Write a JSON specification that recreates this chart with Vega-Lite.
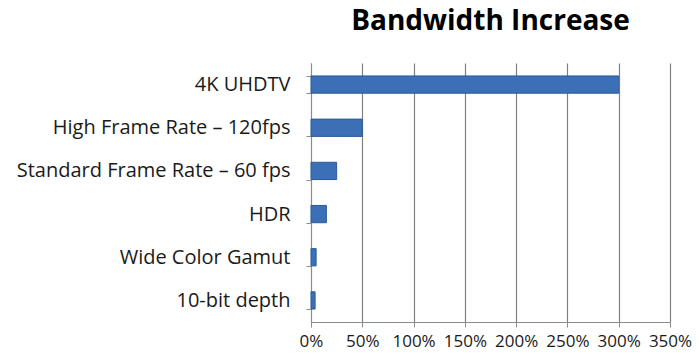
{
  "$schema": "https://vega.github.io/schema/vega-lite/v6.json",
  "width": 359,
  "height": 259,
  "autosize": {"type": "none"},
  "padding": {"left": 311, "top": 63, "right": 30, "bottom": 37},
  "background": "white",
  "title": {
    "text": "Bandwidth Increase",
    "font": "Open Sans",
    "fontSize": 28,
    "fontWeight": "bold",
    "color": "#000000",
    "anchor": "middle",
    "offset": 17
  },
  "data": {
    "values": [
      {"feature": "4K UHDTV", "increase": 300},
      {"feature": "High Frame Rate – 120fps", "increase": 50},
      {"feature": "Standard Frame Rate – 60 fps", "increase": 25},
      {"feature": "HDR", "increase": 15},
      {"feature": "Wide Color Gamut", "increase": 5},
      {"feature": "10-bit depth", "increase": 4}
    ]
  },
  "mark": {"type": "bar", "color": "#3c70b6", "stroke": "#2b5a99", "strokeWidth": 1},
  "encoding": {
    "y": {
      "field": "feature",
      "type": "nominal",
      "sort": null,
      "title": null,
      "scale": {"paddingInner": 0.6, "paddingOuter": 0.3},
      "axis": {
        "labelFont": "Open Sans",
        "labelFontSize": 20,
        "labelLimit": 0,
        "labelColor": "#1a1a1a",
        "labelPadding": 16,
        "domainColor": "#8c8c8c",
        "tickColor": "#8c8c8c",
        "tickBand": "extent",
        "tickSize": 5,
        "grid": false
      }
    },
    "x": {
      "field": "increase",
      "type": "quantitative",
      "title": null,
      "scale": {"domain": [0, 350]},
      "axis": {
        "values": [0, 50, 100, 150, 200, 250, 300, 350],
        "labelExpr": "datum.value + '%'",
        "labelFont": "Open Sans",
        "labelFontSize": 17,
        "labelOverlap": false,
        "labelFlush": false,
        "labelColor": "#1a1a1a",
        "labelPadding": 6,
        "domainColor": "#8c8c8c",
        "tickColor": "#8c8c8c",
        "tickSize": 5,
        "grid": true,
        "gridColor": "#808080",
        "gridWidth": 1.2
      }
    }
  },
  "config": {"view": {"stroke": null}}
}
